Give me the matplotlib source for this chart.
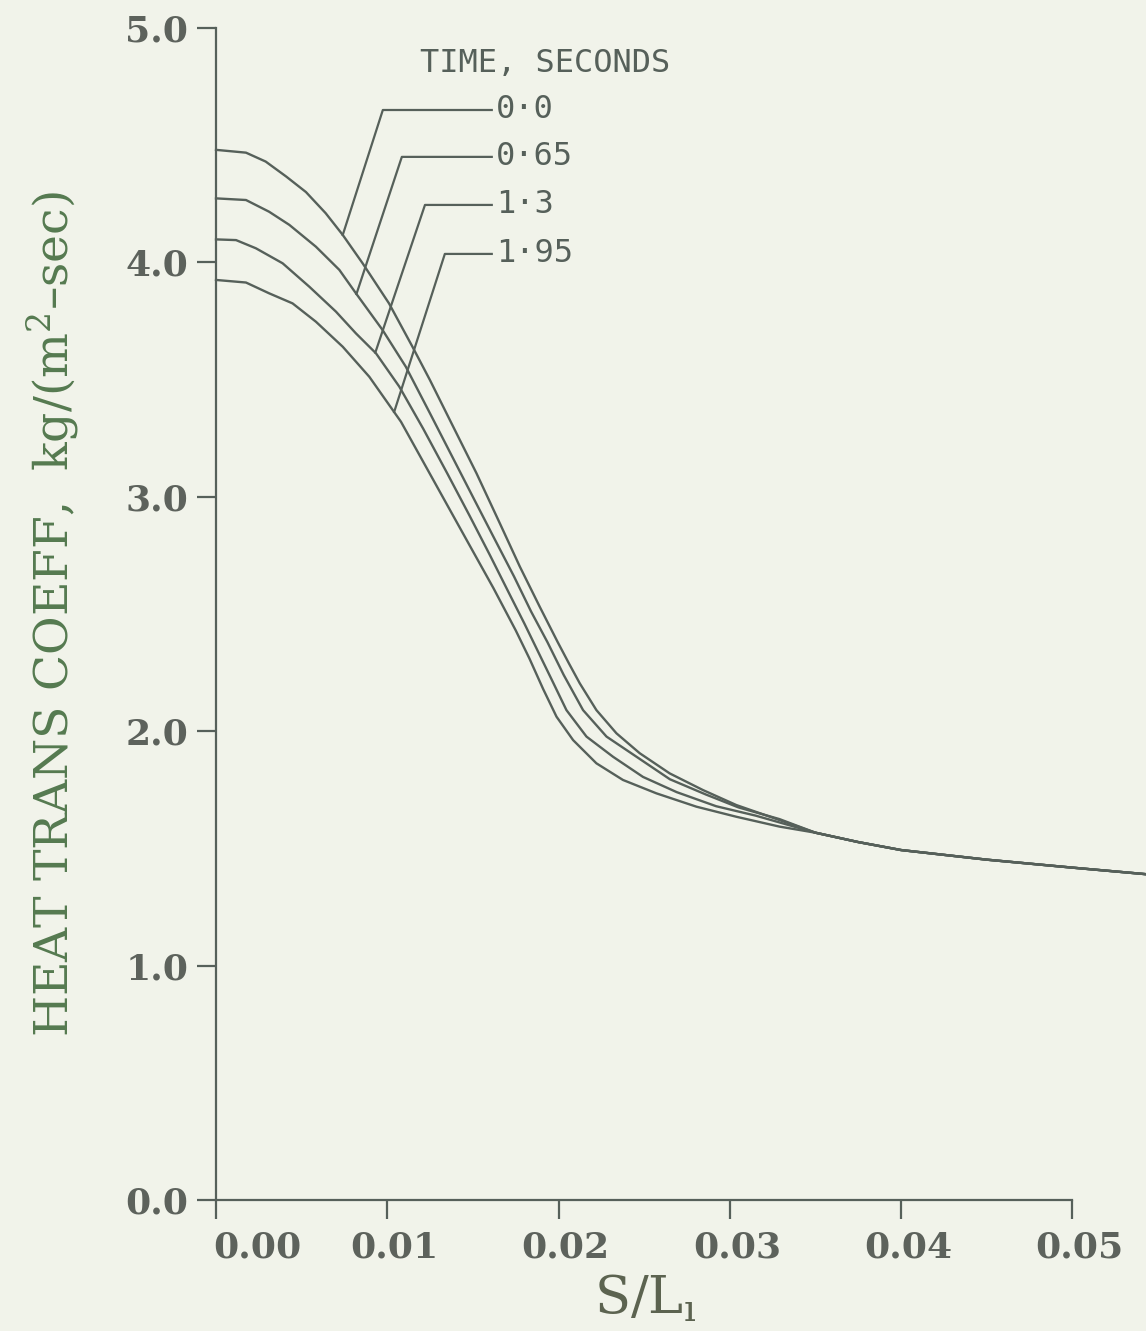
import numpy as np
import matplotlib.pyplot as plt
from matplotlib.transforms import ScaledTranslation

# curves: S/L vs heat transfer coefficient
times = ["0·0", "0·65", "1·3", "1·95"]

x_t0 = [0.0, 0.00175, 0.0029, 0.0041, 0.00525, 0.0064, 0.0074, 0.00856, 0.0101, 0.01147,
        0.01249, 0.01365, 0.01521, 0.01657, 0.01774, 0.0189, 0.01995, 0.0206, 0.02124,
        0.02221, 0.02338, 0.02474, 0.02649, 0.02843, 0.03038, 0.0329,
        0.035, 0.0375, 0.040, 0.045, 0.050, 0.0543]
y_t0 = [4.48, 4.468, 4.43, 4.366, 4.30, 4.21, 4.117, 3.996, 3.825, 3.64,
        3.498, 3.328, 3.10, 2.887, 2.702, 2.531, 2.38, 2.29, 2.204,
        2.09, 1.991, 1.906, 1.82, 1.749, 1.685, 1.621,
        1.567, 1.527, 1.493, 1.452, 1.418, 1.39]

x_t1 = [0.0, 0.00175, 0.0031, 0.00428, 0.00583, 0.0072, 0.00817, 0.00972, 0.01108,
        0.0125, 0.0138, 0.0151, 0.0163, 0.0174, 0.0184, 0.01935, 0.0203, 0.02143, 0.0228,
        0.02455, 0.0265, 0.0286, 0.0305, 0.0329,
        0.035, 0.0375, 0.040, 0.045, 0.050, 0.0543]
y_t1 = [4.273, 4.266, 4.216, 4.16, 4.067, 3.968, 3.868, 3.712, 3.555,
        3.355, 3.17, 2.985, 2.815, 2.66, 2.51, 2.38, 2.24, 2.09, 1.977,
        1.891, 1.795, 1.73, 1.675, 1.625,
        1.567, 1.527, 1.493, 1.452, 1.418, 1.39]

x_t2 = [0.0, 0.00117, 0.00233, 0.00389, 0.00545, 0.007, 0.00817, 0.00934, 0.0107,
        0.0121, 0.0135, 0.0148, 0.0160, 0.0171, 0.0180, 0.0188, 0.0196, 0.02046,
        0.02163, 0.02318, 0.02493, 0.0269, 0.0292, 0.0315,
        0.035, 0.0375, 0.040, 0.045, 0.050, 0.0543]
y_t2 = [4.098, 4.095, 4.06, 3.996, 3.896, 3.79, 3.697, 3.612, 3.47,
        3.29, 3.10, 2.92, 2.75, 2.59, 2.46, 2.34, 2.22, 2.09,
        1.977, 1.891, 1.805, 1.74, 1.68, 1.64,
        1.567, 1.527, 1.493, 1.452, 1.418, 1.39]

x_t3 = [0.0, 0.00175, 0.0031, 0.00447, 0.00583, 0.0074, 0.00895, 0.0108, 0.0127,
        0.0146, 0.0162, 0.0175, 0.0183, 0.0191, 0.01988, 0.02085, 0.02221,
        0.02376, 0.02571, 0.02805, 0.03038, 0.0329,
        0.035, 0.0375, 0.040, 0.045, 0.050, 0.0543]
y_t3 = [3.925, 3.914, 3.868, 3.825, 3.747, 3.64, 3.512, 3.32, 3.07,
        2.82, 2.61, 2.43, 2.31, 2.18, 2.062, 1.962, 1.863,
        1.792, 1.735, 1.678, 1.635, 1.593,
        1.567, 1.527, 1.493, 1.452, 1.418, 1.39]

curves = [(x_t0, y_t0), (x_t1, y_t1), (x_t2, y_t2), (x_t3, y_t3)]

x_ticks = [0.00, 0.01, 0.02, 0.03, 0.04, 0.05]
x_ticklabels = ["0.00", "0.01", "0.02", "0.03", "0.04", "0.05"]
y_ticks = [0.0, 1.0, 2.0, 3.0, 4.0, 5.0]
y_ticklabels = ["0.0", "1.0", "2.0", "3.0", "4.0", "5.0"]

# leader lines: where each touches its curve, the elbow, and the label row
leader_x = [0.0074, 0.0082, 0.0093, 0.0104]
elbow_x = [0.00974, 0.01085, 0.0122, 0.01336]
label_y = [4.65, 4.45, 4.245, 4.036]

bg = "#f1f3ea"
ink = "#56605a"
tick_col = "#5d625c"
label_green = "#557a50"

fig = plt.figure(figsize=(11.46, 13.31), dpi=100, facecolor=bg)
ax = fig.add_axes([0.1885, 0.0984, 0.8115, 0.8806], facecolor=bg)

for xs, ys in curves:
    ax.plot(xs, ys, color=ink, lw=1.7, solid_joinstyle="round", clip_on=False)

# leaders and time labels
for (xs, ys), lx, ex, ly, lab in zip(curves, leader_x, elbow_x, label_y, times):
    y_on = np.interp(lx, xs, ys)
    ax.plot([lx, ex, 0.0161], [y_on, ly, ly], color=ink, lw=1.6, clip_on=False)
    ax.text(0.01635, ly, lab, fontsize=23, family="DejaVu Sans Mono",
            color=ink, va="center", ha="left")

ax.text(0.0119, 4.85, "TIME, SECONDS", fontsize=23, family="DejaVu Sans Mono",
        color=ink, va="center", ha="left")

ax.set_xlim(0, 0.0543)
ax.set_ylim(0, 5.0)
ax.spines["top"].set_visible(False)
ax.spines["right"].set_visible(False)
ax.spines["bottom"].set_bounds(0, 0.05)
for s in ["left", "bottom"]:
    ax.spines[s].set_color(ink)
    ax.spines[s].set_linewidth(1.6)

ax.set_xticks(x_ticks)
ax.set_xticklabels(x_ticklabels)
ax.set_yticks(y_ticks)
ax.set_yticklabels(y_ticklabels)
ax.tick_params(axis="both", direction="out", length=14, width=1.6, color=ink,
               labelcolor=tick_col, labelsize=26)
ax.tick_params(axis="x", pad=8)
ax.tick_params(axis="y", pad=6)
for lab in ax.get_xticklabels() + ax.get_yticklabels():
    lab.set_family("DejaVu Serif")
    lab.set_weight("bold")

# the original plot sets the first x label flush with the axis, others a bit right
xlabs = ax.get_xticklabels()
xlabs[0].set_ha("left")
xlabs[0].set_transform(xlabs[0].get_transform() + ScaledTranslation(-0.03, 0, fig.dpi_scale_trans))
for lab in xlabs[1:]:
    lab.set_transform(lab.get_transform() + ScaledTranslation(0.07, 0, fig.dpi_scale_trans))

ax.set_xlabel("S/L$_\\mathregular{ı}$", fontsize=38, family="DejaVu Serif",
              color="#5c6350")
ax.xaxis.set_label_coords(0.462, -0.062)
ax.set_ylabel("HEAT TRANS COEFF,  kg/(m$^\\mathregular{2}$–sec)", fontsize=34,
              family="DejaVu Serif", color=label_green)
ax.yaxis.set_label_coords(-0.145, 0.5)

fig.savefig("out.png", dpi=100, facecolor=bg)
